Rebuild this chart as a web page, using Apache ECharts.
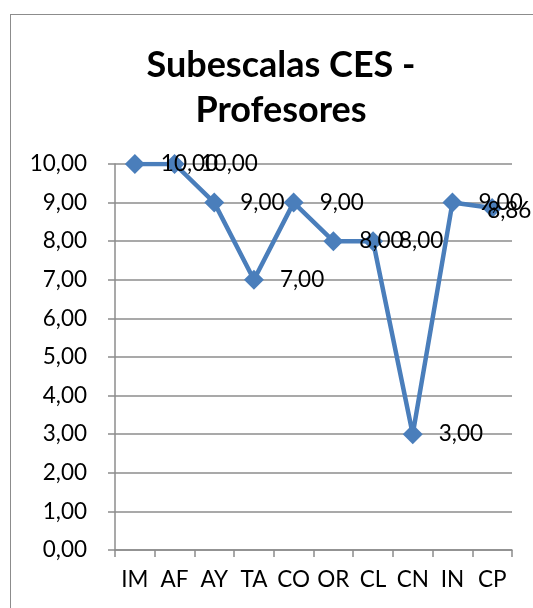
<!DOCTYPE html>
<html>
<head>
<meta charset="utf-8">
<script src="https://cdn.jsdelivr.net/npm/echarts@6/dist/echarts.min.js"></script>
<style>
  html, body { margin: 0; padding: 0; background: #fff; overflow: hidden; }
  #frame { position: absolute; left: 10px; top: 14px; width: 700px; height: 800px;
           border-left: 1.5px solid #8c8c8c; border-top: 1.5px solid #8c8c8c; }
  #chart { position: absolute; left: 0; top: 0; width: 533px; height: 608px; }
</style>
</head>
<body>
<div id="frame"></div>
<div id="chart"></div>
<script>
// categorías y valores
var categories = ["IM", "AF", "AY", "TA", "CO", "OR", "CL", "CN", "IN", "CP"];
var values = [10, 10, 9, 7, 9, 8, 8, 3, 9, 8.86];
var titleText = "Subescalas CES -\nProfesores";

function fmt(v) {
  return Number(v).toFixed(2).replace(".", ",");
}

// la última etiqueta se desplaza para que quepa dentro del gráfico
var seriesData = values.map(function (v, i) {
  if (i === values.length - 1) {
    return { value: v, label: { offset: [-31, 3] } };
  }
  return v;
});

var chart = echarts.init(document.getElementById("chart"));
var option = {
  animation: false,
  textStyle: { fontFamily: "Lato" },
  title: {
    text: titleText,
    left: 276,
    top: 38,
    textAlign: "center",
    textStyle: {
      fontFamily: "Lato",
      fontWeight: "bold",
      fontSize: 36,
      lineHeight: 45,
      color: "#000"
    }
  },
  grid: { left: 115, right: 21, top: 164, bottom: 58 },
  xAxis: {
    type: "category",
    data: categories,
    boundaryGap: true,
    axisLine: { lineStyle: { color: "#8c8c8c", width: 1.5 } },
    axisTick: { show: true, interval: 0, length: 7, lineStyle: { color: "#8c8c8c", width: 1.5 } },
    axisLabel: { color: "#000", fontSize: 22.5, margin: 18, interval: 0 }
  },
  yAxis: {
    type: "value",
    min: 0,
    max: 10,
    interval: 1,
    axisLine: { show: true, lineStyle: { color: "#8c8c8c", width: 1.5 } },
    axisTick: { show: true, length: 7, lineStyle: { color: "#8c8c8c", width: 1.5 } },
    splitLine: { lineStyle: { color: "#8c8c8c", width: 1.5 } },
    axisLabel: { color: "#000", fontSize: 22.5, margin: 28, formatter: fmt }
  },
  series: [{
    type: "line",
    data: seriesData,
    symbol: "diamond",
    symbolSize: 20,
    lineStyle: { color: "#4a7ebb", width: 4.5 },
    itemStyle: { color: "#4a7ebb" },
    label: {
      show: true,
      position: "right",
      distance: 16,
      color: "#000",
      fontSize: 22.5,
      fontFamily: "Lato",
      formatter: function (p) { return fmt(p.value); }
    }
  }]
};
chart.setOption(option);
</script>
</body>
</html>
